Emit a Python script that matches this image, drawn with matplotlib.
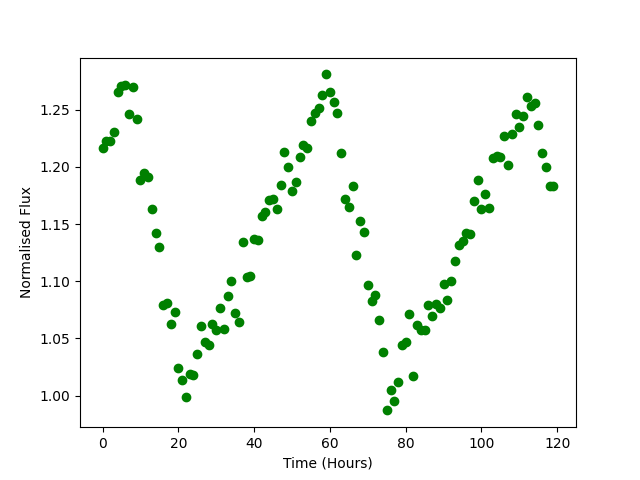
import matplotlib
matplotlib.use("Agg")
import matplotlib.pyplot as plt

# hourly samples, 0..119 h
time_h = list(range(120))
flux = [
    1.217, 1.223, 1.223, 1.231, 1.266, 1.271, 1.272, 1.246, 1.270, 1.242,
    1.189, 1.195, 1.191, 1.163, 1.142, 1.130, 1.079, 1.081, 1.063, 1.073,
    1.024, 1.014, 0.999, 1.019, 1.018, 1.036, 1.061, 1.047, 1.044, 1.063,
    1.057, 1.077, 1.058, 1.087, 1.100, 1.072, 1.064, 1.134, 1.104, 1.105,
    1.137, 1.136, 1.157, 1.161, 1.171, 1.172, 1.163, 1.184, 1.213, 1.200,
    1.179, 1.187, 1.209, 1.219, 1.217, 1.240, 1.247, 1.252, 1.263, 1.281,
    1.266, 1.257, 1.247, 1.212, 1.172, 1.165, 1.183, 1.123, 1.153, 1.143,
    1.097, 1.083, 1.088, 1.066, 1.038, 0.987, 1.005, 0.995, 1.012, 1.044,
    1.047, 1.071, 1.017, 1.062, 1.057, 1.057, 1.079, 1.070, 1.080, 1.077,
    1.098, 1.084, 1.100, 1.118, 1.132, 1.135, 1.142, 1.141, 1.170, 1.189,
    1.163, 1.176, 1.164, 1.208, 1.210, 1.209, 1.227, 1.202, 1.229, 1.246,
    1.235, 1.245, 1.261, 1.253, 1.256, 1.237, 1.212, 1.200, 1.183, 1.183,
]

fig, ax = plt.subplots(figsize=(6.4, 4.8))
ax.plot(time_h, flux, "o", color="green")
ax.set_xlabel("Time (Hours)")
ax.set_ylabel("Normalised Flux")
fig.savefig("out.png", dpi=100)
